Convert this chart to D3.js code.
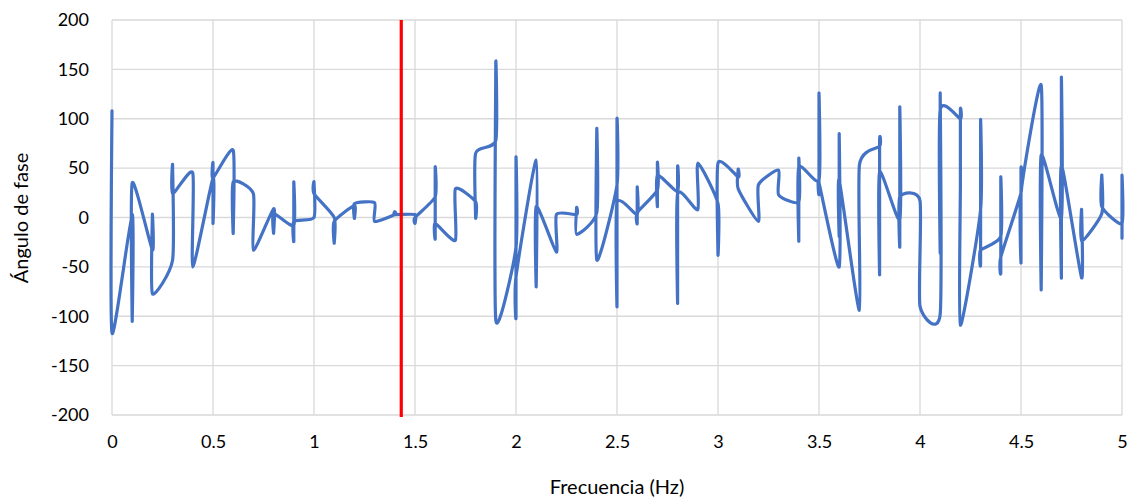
<!DOCTYPE html>
<html><head><meta charset="utf-8">
<script src="https://cdn.jsdelivr.net/npm/d3@7"></script>
<style>body{margin:0;background:#fff}text{font-family:Lato,"Open Sans",sans-serif;fill:#000}</style>
</head><body>
<svg id="c" width="1132" height="499"></svg>
<script>
const freq = [0,0, 0.1,0.1,0.1, 0.2,0.2,0.2, 0.3,0.3,0.3, 0.4,0.4, 0.5,0.5,0.5,0.5, 0.6,0.6,0.6, 0.7,0.7,
 0.8,0.8,0.8, 0.9,0.9,0.9,0.9, 1.0,1.0,1.0, 1.1,1.1,1.1, 1.2,1.2,1.2, 1.3,1.3, 1.4,1.4,1.4, 1.5,1.5,1.5,
 1.6,1.6,1.6,1.6, 1.7,1.7, 1.8,1.8,1.8, 1.9,1.9,1.9, 2.0,2.0,2.0,2.0, 2.1,2.1,2.1, 2.2,2.2, 2.3,2.3,2.3,
 2.4,2.4,2.4, 2.5,2.5,2.5,2.5, 2.6,2.6,2.6,2.6, 2.7,2.7,2.7,2.7, 2.8,2.8,2.8,2.8, 2.9,2.9, 3.0,3.0,3.0,
 3.1,3.1,3.1, 3.2,3.2, 3.3,3.3, 3.4,3.4,3.4,3.4, 3.5,3.5,3.5,3.5, 3.6,3.6,3.6,3.6, 3.7,3.7,
 3.8,3.8,3.8,3.8, 3.9,3.9,3.9,3.9, 4.0,4.0, 4.1,4.1,4.1,4.1, 4.2,4.2,4.2,4.2, 4.3,4.3,4.3,4.3,
 4.4,4.4,4.4,4.4, 4.5,4.5,4.5,4.5, 4.6,4.6,4.6, 4.7,4.7,4.7,4.7, 4.8,4.8,4.8, 4.9,4.9,4.9, 5.0,5.0,5.0];
const phase = [108,-117, 3,-105,35, -33,3,-77, -43,53,24, 45,-50, 40,-6,55,40, 68,-16,36, 24,-33,
 9,-16,4, -8,36,-24,-4, 0,36,24, 0,-26,-4, 12,-1,14, 15,-4, 3,6,3, 3,-6,0,
 21,51,-21,-6, -23,29, 16,0,65, 78,156,-104, -30,61,-100,-60, 58,-70,11, -35,3, 3,10,-17,
 5,90,-43, 33,99,-90,15, 3,31,-6,5, 28,56,11,43, 26,50,-87,24, 8,55, 14,-38,55,
 41,49,29, -4,33, 48,23, 16,60,-24,51, 38,126,25,35, -50,85,-19,38, -94,53,
 72,77,-58,46, -2,112,-29,21, 17,-90, -98,126,-36,109, 100,109,33,-109, 8,99,-45,-33,
 -19,41,-55,-40, 25,50,-46,25, 134,-73,63, 0,142,-61,53, -61,8,-24, 4,43,11, -6,43,-21];
const xTicks = [0,0.5,1,1.5,2,2.5,3,3.5,4,4.5,5];
const yTicks = [-200,-150,-100,-50,0,50,100,150,200];
const markerFreq = [1.432];

const svg = d3.select("#c");
const L=112,R=1122,T=20,B=415;
const x = d3.scaleLinear().domain([0,5]).range([L,R]);
const y = d3.scaleLinear().domain([-200,200]).range([B,T]);

const g = svg.append("g");
g.selectAll(".gy").data(yTicks).join("line").attr("x1",L).attr("x2",R)
 .attr("y1",d=>y(d)).attr("y2",d=>y(d)).attr("stroke","#d9d9d9").attr("stroke-width",1.3);
g.selectAll(".gx").data(xTicks).join("line").attr("y1",T).attr("y2",B)
 .attr("x1",d=>x(d)).attr("x2",d=>x(d)).attr("stroke","#d9d9d9").attr("stroke-width",1.3);

const yAxis = d3.axisLeft(y).tickValues(yTicks).tickFormat(d=>String(d)).tickSize(0).tickPadding(23);
svg.append("g").attr("transform",`translate(${L},0)`).call(yAxis)
 .call(s=>s.select(".domain").remove())
 .selectAll("text").style("font-size","18px").attr("fill","#000");
const xAxis = d3.axisBottom(x).tickValues(xTicks).tickFormat(d=>String(d)).tickSize(0).tickPadding(20);
svg.append("g").attr("transform",`translate(0,${B})`).call(xAxis)
 .call(s=>s.select(".domain").remove())
 .selectAll("text").style("font-size","18px").attr("fill","#000");

const pts = freq.map((f,i)=>[f,phase[i]]);
const line = d3.line().x(d=>x(d[0])).y(d=>y(d[1])).curve(d3.curveCardinal.tension(0.4));
svg.append("path").datum(pts).attr("d",line).attr("fill","none")
 .attr("stroke","#4472C4").attr("stroke-width",3.2).attr("stroke-linejoin","round").attr("stroke-linecap","round");

svg.selectAll(".mk").data(markerFreq).join("line").attr("x1",d=>x(d)).attr("x2",d=>x(d))
 .attr("y1",T).attr("y2",B+2).attr("stroke","#ff0000").attr("stroke-width",3.2);

svg.append("text").attr("x",617).attr("y",494).attr("text-anchor","middle").style("font-size","20px").text("Frecuencia (Hz)");
svg.append("text").attr("transform","translate(28,218) rotate(-90)").attr("text-anchor","middle").style("font-size","20px").text("Ángulo de fase");
</script>
</body></html>
